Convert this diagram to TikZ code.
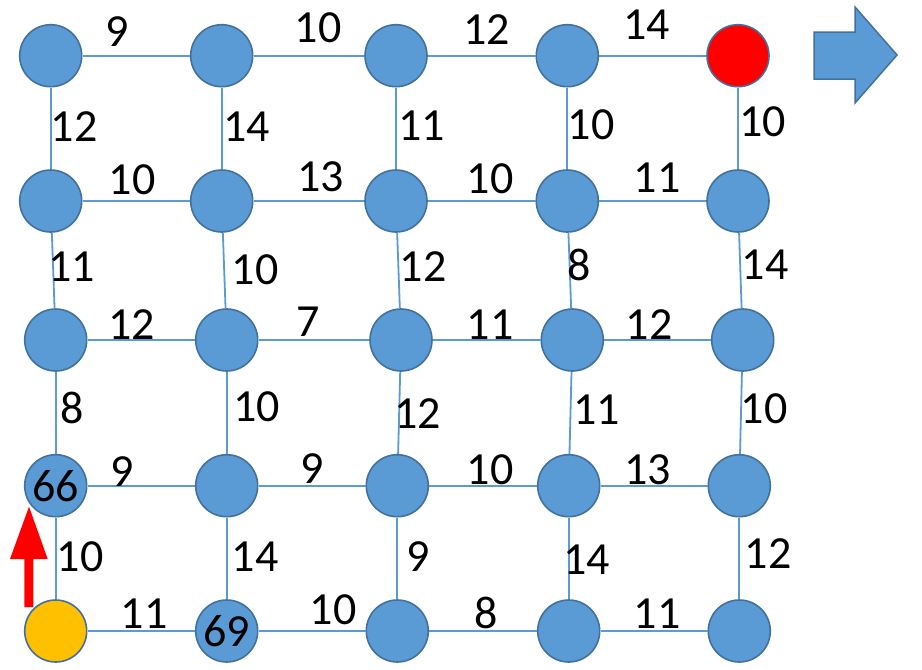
\documentclass[tikz,border=0pt]{standalone}
\usepackage{fontspec}
\setmainfont{Carlito}
\definecolor{nodeblue}{HTML}{5B9BD5}
\definecolor{nodeborder}{HTML}{41719C}
\definecolor{startorange}{HTML}{FFC000}
\begin{document}
\begin{tikzpicture}[x=1pt,y=-1pt,
  vtx/.style={circle,draw=nodeborder,line width=1.6pt,fill=nodeblue,minimum size=62pt,inner sep=0pt,font=\fontsize{46}{50}\selectfont},
  edge/.style={draw=nodeblue,line width=1.8pt},
  wlabel/.style={inner sep=0pt,font=\fontsize{46}{50}\selectfont}]
\useasboundingbox (0,0) rectangle (922,670);
% nodes
\node[vtx] (n11) at (50.7,55.7) {};
\node[vtx] (n12) at (221.7,55.7) {};
\node[vtx] (n13) at (396,55.7) {};
\node[vtx] (n14) at (567.3,55.7) {};
\node[vtx,fill=red] (n15) at (738,55.7) {};
\node[vtx] (n21) at (50.7,201) {};
\node[vtx] (n22) at (221.7,201) {};
\node[vtx] (n23) at (396,201) {};
\node[vtx] (n24) at (567.3,201) {};
\node[vtx] (n25) at (738,201) {};
\node[vtx] (n31) at (55.7,340) {};
\node[vtx] (n32) at (226.7,340) {};
\node[vtx] (n33) at (401,340) {};
\node[vtx] (n34) at (572.3,340) {};
\node[vtx] (n35) at (742.7,340) {};
\node[vtx] (n41) at (55.7,485.7) {66};
\node[vtx] (n42) at (226.7,485.7) {};
\node[vtx] (n43) at (397.3,485.7) {};
\node[vtx] (n44) at (568.7,485.7) {};
\node[vtx] (n45) at (739.3,485.7) {};
\node[vtx,fill=startorange] (n51) at (55.7,631) {};
\node[vtx] (n52) at (226.7,631) {69};
\node[vtx] (n53) at (397.3,631) {};
\node[vtx] (n54) at (568.7,631) {};
\node[vtx] (n55) at (739.3,631) {};
% horizontal edges
\foreach \r in {1,...,5}{
  \draw[edge] (n\r1) -- (n\r2);
  \draw[edge] (n\r2) -- (n\r3);
  \draw[edge] (n\r3) -- (n\r4);
  \draw[edge] (n\r4) -- (n\r5);
}
% vertical edges
\foreach \c in {1,...,5}{
  \draw[edge] (n1\c) -- (n2\c);
  \draw[edge] (n2\c) -- (n3\c);
  \draw[edge] (n3\c) -- (n4\c);
  \draw[edge] (n4\c) -- (n5\c);
}
% horizontal weights
\node[wlabel] (h11) at (116.7,31.7) {9};
\node[wlabel] (h12) at (318,28) {10};
\node[wlabel] (h13) at (486.7,30) {12};
\node[wlabel] (h14) at (646.7,25) {14};
\node[wlabel] (h21) at (132,180) {10};
\node[wlabel] (h22) at (320.7,176.7) {13};
\node[wlabel] (h23) at (490,179) {10};
\node[wlabel] (h24) at (657.3,178) {11};
\node[wlabel] (h31) at (131.7,325) {12};
\node[wlabel] (h32) at (308.3,321.7) {7};
\node[wlabel] (h33) at (490,325) {11};
\node[wlabel] (h34) at (649,325) {12};
\node[wlabel] (h41) at (122.3,471.7) {9};
\node[wlabel] (h42) at (311.7,468.3) {9};
\node[wlabel] (h43) at (490,470) {10};
\node[wlabel] (h44) at (647.7,470) {13};
\node[wlabel] (h51) at (144,613.3) {11};
\node[wlabel] (h52) at (333.3,610) {10};
\node[wlabel] (h53) at (486,613.3) {8};
\node[wlabel] (h54) at (657.3,613.3) {11};
% vertical weights
\node[wlabel] (v11) at (74,127) {12};
\node[wlabel] (v12) at (246.7,127) {14};
\node[wlabel] (v13) at (421.7,126) {11};
\node[wlabel] (v14) at (591,125) {10};
\node[wlabel] (v15) at (762.7,121.7) {10};
\node[wlabel] (v21) at (71.7,266.7) {11};
\node[wlabel] (v22) at (255,269.3) {10};
\node[wlabel] (v23) at (423.3,266.7) {12};
\node[wlabel] (v24) at (579.3,265) {8};
\node[wlabel] (v25) at (765,265) {14};
\node[wlabel] (v31) at (71.7,408.3) {8};
\node[wlabel] (v32) at (256.7,406.7) {10};
\node[wlabel] (v33) at (417.7,413.3) {12};
\node[wlabel] (v34) at (596.7,410) {11};
\node[wlabel] (v35) at (764.3,408.3) {10};
\node[wlabel] (v41) at (80,556.7) {10};
\node[wlabel] (v42) at (255,556.7) {14};
\node[wlabel] (v43) at (417.7,556.7) {9};
\node[wlabel] (v44) at (586.7,560) {14};
\node[wlabel] (v45) at (768.3,553.3) {12};
% red arrow pointing up at node 66
\fill[red] (24.3,607) -- (24.3,559) -- (10,559) -- (29,506.7) -- (47.7,559) -- (33.3,559) -- (33.3,607) -- cycle;
% big block arrow
\draw[draw=nodeborder,line width=1.5pt,fill=nodeblue,line join=miter]
  (814,32) -- (855,32) -- (855,7) -- (897,55) -- (855,103) -- (855,79) -- (814,79) -- cycle;
\end{tikzpicture}
\end{document}
